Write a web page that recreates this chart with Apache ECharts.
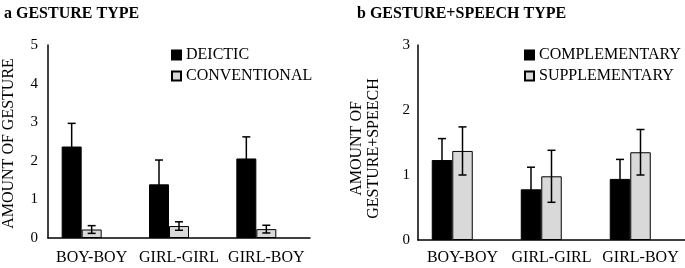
<!DOCTYPE html>
<html>
<head>
<meta charset="utf-8">
<script src="https://cdn.jsdelivr.net/npm/echarts@6/dist/echarts.min.js"></script>
<style>
html,body{margin:0;padding:0;background:#fff;}
#main{width:685px;height:268px;}
</style>
</head>
<body>
<div id="main"></div>
<script>
var categories = ['BOY-BOY', 'GIRL-GIRL', 'GIRL-BOY'];

// panel a: gesture type
var deicticMean = [2.37, 1.39, 2.06];
var deicticErr = [0.60, 0.63, 0.56];
var conventionalMean = [0.22, 0.31, 0.23];
var conventionalErr = [0.10, 0.11, 0.10];

// panel b: gesture+speech type
var complementaryMean = [1.23, 0.78, 0.94];
var complementaryErr = [0.33, 0.34, 0.30];
var supplementaryMean = [1.37, 0.98, 1.35];
var supplementaryErr = [0.37, 0.40, 0.35];

var font = 'Liberation Serif';
var chart = echarts.init(document.getElementById('main'));

var axisLine = {show: true, lineStyle: {color: '#000', width: 1.5}};

var barWidthA = 20;
var barWidthB = 20.5;

// error bar drawn on top of a bar; slot 0 = first bar, 1 = second bar
function errBar(mean, err, slot, bw) {
    var data = [];
    for (var i = 0; i < mean.length; i++) {
        data.push([i, mean[i], err[i], slot, bw]);
    }
    return data;
}
var renderErr = function (params, api) {
    var c = api.coord([api.value(0), api.value(1)]);
    var slot = api.value(3), bw = api.value(4);
    var x = c[0] + (slot === 0 ? -bw : 0);
    var hi = api.coord([api.value(0), api.value(1) + api.value(2)])[1];
    var lo = api.coord([api.value(0), api.value(1) - api.value(2)])[1];
    var cap = 4;
    var st = {stroke: '#000', lineWidth: 1.5};
    return {
        type: 'group',
        children: [
            {type: 'line', shape: {x1: x, y1: hi, x2: x, y2: lo}, style: st},
            {type: 'line', shape: {x1: x - cap, y1: hi, x2: x + cap, y2: hi}, style: st},
            {type: 'line', shape: {x1: x - cap, y1: lo, x2: x + cap, y2: lo}, style: st}
        ]
    };
};

option = {
    backgroundColor: '#fff',
    animation: false,
    textStyle: {fontFamily: font, color: '#000'},
    title: [
        {text: 'a GESTURE TYPE', left: -1, top: 1,
            textStyle: {fontFamily: font, fontSize: 16, fontWeight: 'bold', color: '#000'}},
        {text: 'b GESTURE+SPEECH TYPE', left: 352, top: 1,
            textStyle: {fontFamily: font, fontSize: 16, fontWeight: 'bold', color: '#000'}}
    ],
    legend: [
        {
            data: ['DEICTIC', 'CONVENTIONAL'],
            orient: 'vertical', left: 166, top: 42,
            itemWidth: 9, itemHeight: 9, itemGap: 5, icon: 'rect',
            textStyle: {fontFamily: font, fontSize: 16, color: '#000'}
        },
        {
            data: ['COMPLEMENTARY', 'SUPPLEMENTARY'],
            orient: 'vertical', left: 519, top: 42,
            itemWidth: 9, itemHeight: 9, itemGap: 5, icon: 'rect',
            textStyle: {fontFamily: font, fontSize: 16, color: '#000'}
        }
    ],
    grid: [
        {left: 46, top: 45, width: 264, height: 193},
        {left: 418, top: 45, width: 267, height: 195}
    ],
    xAxis: [
        {type: 'category', gridIndex: 0, data: categories, axisLine: axisLine,
            axisTick: {show: false},
            axisLabel: {fontFamily: font, fontSize: 16, color: '#000', margin: 12, interval: 0}},
        {type: 'category', gridIndex: 1, data: categories, axisLine: axisLine,
            axisTick: {show: false},
            axisLabel: {fontFamily: font, fontSize: 16, color: '#000', margin: 10, interval: 0}}
    ],
    yAxis: [
        {type: 'value', gridIndex: 0, min: 0, max: 5, interval: 1,
            name: 'AMOUNT OF GESTURE', nameLocation: 'middle', nameGap: 31, nameMoveOverlap: false,
            nameTextStyle: {fontFamily: font, fontSize: 16, color: '#000', padding: [0, 4, 0, 0]},
            axisLine: axisLine, axisTick: {show: false}, splitLine: {show: false},
            axisLabel: {fontFamily: font, fontSize: 15, color: '#000', margin: 10}},
        {type: 'value', gridIndex: 1, min: 0, max: 3, interval: 1,
            name: 'AMOUNT OF\nGESTURE+SPEECH', nameLocation: 'middle', nameGap: 36, nameMoveOverlap: false,
            nameTextStyle: {fontFamily: font, fontSize: 16, color: '#000', lineHeight: 17,
                padding: [0, 12, 0, 0]},
            axisLine: axisLine, axisTick: {show: false}, splitLine: {show: false},
            axisLabel: {fontFamily: font, fontSize: 15, color: '#000', margin: 8}}
    ],
    series: [
        {name: 'DEICTIC', type: 'bar', xAxisIndex: 0, yAxisIndex: 0, barWidth: barWidthA, barGap: 0,
            itemStyle: {color: '#000', borderColor: '#000', borderWidth: 1}, data: deicticMean},
        {name: 'CONVENTIONAL', type: 'bar', xAxisIndex: 0, yAxisIndex: 0, barWidth: barWidthA, barGap: 0,
            itemStyle: {color: '#d9d9d9', borderColor: '#000', borderWidth: 1}, data: conventionalMean},
        // empty slot keeps the pair left of the category centre, as in the original
        {name: 'spacerA', type: 'bar', xAxisIndex: 0, yAxisIndex: 0, barWidth: barWidthA, barGap: 0, data: []},
        {type: 'custom', xAxisIndex: 0, yAxisIndex: 0, renderItem: renderErr, z: 5,
            data: errBar(deicticMean, deicticErr, 0, barWidthA)},
        {type: 'custom', xAxisIndex: 0, yAxisIndex: 0, renderItem: renderErr, z: 5,
            data: errBar(conventionalMean, conventionalErr, 1, barWidthA)},

        {name: 'COMPLEMENTARY', type: 'bar', xAxisIndex: 1, yAxisIndex: 1, barWidth: barWidthB, barGap: 0,
            itemStyle: {color: '#000', borderColor: '#000', borderWidth: 1}, data: complementaryMean},
        {name: 'SUPPLEMENTARY', type: 'bar', xAxisIndex: 1, yAxisIndex: 1, barWidth: barWidthB, barGap: 0,
            itemStyle: {color: '#d9d9d9', borderColor: '#000', borderWidth: 1}, data: supplementaryMean},
        {name: 'spacerB', type: 'bar', xAxisIndex: 1, yAxisIndex: 1, barWidth: barWidthB, barGap: 0, data: []},
        {type: 'custom', xAxisIndex: 1, yAxisIndex: 1, renderItem: renderErr, z: 5,
            data: errBar(complementaryMean, complementaryErr, 0, barWidthB)},
        {type: 'custom', xAxisIndex: 1, yAxisIndex: 1, renderItem: renderErr, z: 5,
            data: errBar(supplementaryMean, supplementaryErr, 1, barWidthB)}
    ]
};
chart.setOption(option);
</script>
</body>
</html>
